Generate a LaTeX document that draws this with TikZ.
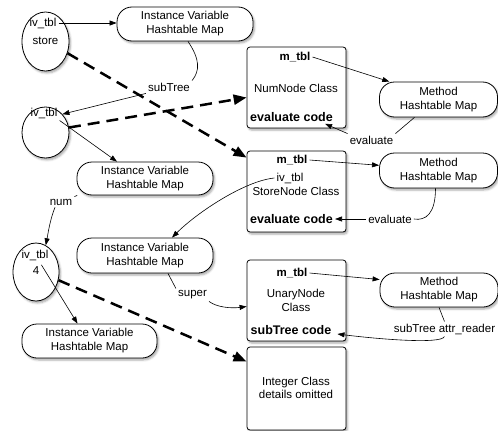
\documentclass[tikz,border=0pt]{standalone}
\usepackage{fontspec}
\setmainfont{Liberation Sans}
\usetikzlibrary{shapes.geometric,arrows.meta,shadows.blur}
\newcommand\basefont{\fontsize{11.5}{14}\selectfont}
\newcommand\codefont{\fontsize{12.5}{14}\selectfont\bfseries}

\begin{document}
\begin{tikzpicture}[x=1pt,y=-1pt,
  font=\basefont,
  every node/.style={inner sep=2pt},
  shade/.style={blur shadow={shadow xshift=1.5pt,shadow yshift=-2pt,shadow blur radius=2pt,shadow opacity=35}},
  ivtbl/.style={ellipse,draw,line width=0.8pt,fill=white,minimum width=47pt,inner sep=0pt,shade},
  ivmap/.style={rectangle,draw,line width=0.8pt,fill=white,rounded corners=15pt,minimum width=136pt,minimum height=34pt,align=center,shade},
  mmap/.style={ivmap,minimum width=118pt,minimum height=35pt},
  classbox/.style={rectangle,draw,line width=0.8pt,fill=white,rounded corners=3pt,minimum width=99pt,minimum height=81pt,shade},
  tbl/.style={font=\basefont\bfseries},
  code/.style={font=\codefont},
  link/.style={draw,line width=0.6pt,-{Triangle[length=7pt,width=5pt]}},
  plain/.style={draw,line width=0.6pt},
  ref/.style={draw,line width=2.5pt,dash pattern=on 12pt off 7pt,-{Triangle[length=13pt,width=10pt]}},
]
\useasboundingbox (0,0) rectangle (498,431);

% instance-variable tables
\node[ivtbl,minimum height=59pt] (e1) at (45.5,41.5) {};
\node (e1a) at (43,23) {iv\_tbl};
\node (e1b) at (45.5,41) {store};

\node[ivtbl,minimum height=51pt] (e2) at (45.5,132.5) {};
\node (e2a) at (44,113) {iv\_tbl};

\node[ivtbl,minimum width=46pt,minimum height=58pt] (e3) at (36,272) {};
\node (e3a) at (35,255) {iv\_tbl};
\node (e3b) at (36,271) {4};

% hashtable maps
\node[ivmap] (m1) at (185,24) {Instance Variable\\Hashtable Map};
\node[ivmap,minimum height=33pt] (m2) at (145,178.5) {Instance Variable\\Hashtable Map};
\node[ivmap,minimum height=35pt] (m3) at (145,255.5) {Instance Variable\\Hashtable Map};
\node[ivmap,minimum width=135pt] (m4) at (89.5,341) {Instance Variable\\Hashtable Map};

\node[mmap] (mh1) at (438.5,99.5) {Method\\Hashtable Map};
\node[mmap] (mh2) at (438.5,170.5) {Method\\Hashtable Map};
\node[mmap,minimum height=34pt] (mh3) at (439,290) {Method\\Hashtable Map};

% classes
\node[classbox] (nn) at (296.5,87.5) {};
\node[tbl] (nnt) at (295,57) {m\_tbl};
\node (nnc) at (296,88) {NumNode Class};
\node[code] (nne) at (291.5,117) {evaluate code};

\node[classbox] (sn) at (296.5,191.5) {};
\node[tbl] (snt) at (292,160) {m\_tbl};
\node (sni) at (290,178) {iv\_tbl};
\node (snc) at (296,191) {StoreNode Class};
\node[code] (sne) at (291.5,219) {evaluate code};

\node[classbox] (un) at (296.5,300.5) {};
\node[tbl] (unt) at (292,273) {m\_tbl};
\node[align=center] (unc) at (296,300.5) {UnaryNode\\Class};
\node[code] (ust) at (291,330) {subTree code};

\node[classbox,minimum height=83pt] (int) at (296.5,388.5) {};
\node[align=center,font=\fontsize{11.5}{12.5}\selectfont] (intc) at (296,388) {Integer Class\\details omitted};

% connector labels
\node (sT) at (169,87) {subTree};
\node (ev1) at (371.5,140) {evaluate};
\node (ev2) at (390,219) {evaluate};
\node (num) at (61,202) {num};
\node (sup) at (192.5,295) {super};
\node (sta) at (444.5,329) {subTree attr\_reader};

% instance variable links
\path[link] (e1a.east) -- (e1a.east -| m1.west);
\path[plain] ([xshift=3pt]m1.south) .. controls +(12,18) and +(8,-10) .. (sT.north east);
\path[link] (sT.south west) -- (e2.north east);
\path[link] (e2a.south east) -- ([xshift=-28pt]m2.north);
\path[plain] (m2.194) -- (num.north east);
\path[link] ([xshift=-6pt]num.south) .. controls +(-5,12) and +(2,-10) .. (e3.70);
\path[link] (e3b.north east) -- ([xshift=-12pt]m4.north);
\path[link] (sni.west) .. controls +(-30,3) and +(25,-25) .. ([xshift=27pt]m3.north);
\path[plain] ([xshift=23pt]m3.south) -- (sup.north west);
\path[link] (sup.south east) .. controls +(8,6) and +(-15,2) .. ([yshift=-6pt]un.west);

% class references
\path[ref] (e1.-28) -- ([yshift=-7pt]sn.north west);
\path[ref] (e2.12) -- ([yshift=-10pt]nn.west);
\path[ref] (e3.-20) -- ([yshift=-15pt]int.north west);

% method tables
\path[link] (nnt.east) -- (mh1.160);
\path[plain] ([xshift=-24pt]mh1.south) -- (ev1.north east);
\path[link] (ev1.north west) -- ([xshift=-10pt]nne.south east);

\path[link] (snt.east) -- (mh2.175);
\path[plain] ([xshift=-3pt]mh2.south) .. controls +(0,25) and +(12,2) .. (ev2.east);
\path[link] (ev2.west) -- (sne.east);

\path[link] (unt.east) -- (mh3.170);
\path[plain] (mh3.south) -- (sta.north);
\path[link] (sta.south) .. controls +(-3,8) and +(40,5) .. ([xshift=4pt,yshift=-4pt]ust.east);
\end{tikzpicture}
\end{document}
